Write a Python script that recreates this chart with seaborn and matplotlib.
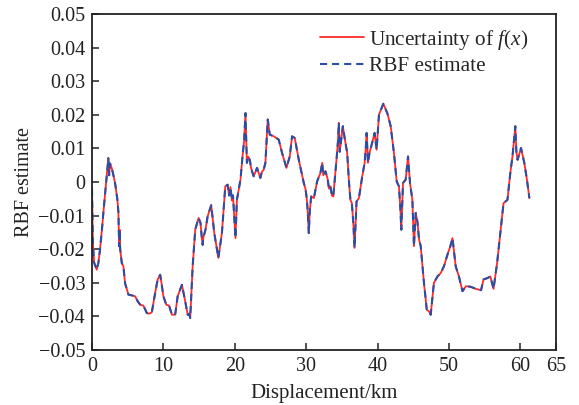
import matplotlib
matplotlib.use("Agg")
import matplotlib.pyplot as plt
import seaborn as sns
import pandas as pd
from matplotlib.ticker import FixedLocator, FuncFormatter

# ---- data ----
displacement_km = [
    0.0, 0.12, 0.3, 0.66, 0.9, 1.12, 1.4, 1.59, 1.97, 2.15, 2.29, 2.4, 2.53, 2.76, 3.0, 3.23,
    3.56, 3.7, 3.8, 3.88, 3.95, 4.17, 4.4, 4.63, 5.1, 5.5, 6.04, 6.4, 6.74, 7.2, 7.68, 8.0,
    8.38, 8.85, 9.2, 9.55, 9.8, 10.0, 10.4, 10.8, 11.2, 11.65, 12.0, 12.6, 13.1, 13.4, 13.6,
    13.76, 14.1, 14.46, 14.93, 15.2, 15.4, 15.5, 15.6, 15.9, 16.2, 16.7, 17.13, 17.7, 18.2,
    18.67, 19.0, 19.2, 19.4, 19.6, 19.75, 20.1, 20.3, 20.8, 21.15, 21.3, 21.5, 21.7, 21.9,
    22.1, 22.3, 22.65, 23.12, 23.58, 23.8, 24.05, 24.29, 24.62, 24.9, 25.46, 26.16, 26.63,
    27.24, 27.7, 28.03, 28.4, 28.97, 29.67, 29.9, 30.05, 30.2, 30.37, 30.5, 30.7, 31.08,
    31.54, 32.0, 32.25, 32.4, 32.7, 33.0, 33.2, 33.4, 33.6, 33.8, 34.25, 34.45, 34.58, 34.7,
    34.8, 35.14, 35.4, 35.75, 36.0, 36.2, 36.4, 36.6, 36.78, 37.06, 37.39, 37.86, 38.19,
    38.35, 38.47, 38.66, 38.9, 39.12, 39.59, 39.87, 40.2, 40.81, 41.37, 41.84, 42.3, 42.68,
    43.0, 43.2, 43.33, 43.57, 43.94, 44.1, 44.27, 44.55, 44.88, 45.1, 45.35, 45.6, 45.82,
    46.05, 46.5, 46.9, 47.2, 47.45, 47.9, 48.4, 48.85, 49.3, 49.8, 50.2, 50.5, 50.95, 51.4,
    51.9, 52.4, 53.07, 53.77, 54.5, 54.85, 55.4, 55.8, 56.25, 56.75, 57.2, 57.65, 58.2, 58.6,
    58.9, 59.3, 59.45, 59.62, 60.1, 60.56, 60.93, 61.27,
]
uncertainty_fx = [
    -0.002, -0.018, -0.024, -0.0261, -0.024, -0.0201, -0.014, -0.0092, -0.0003, 0.004, 0.0071,
    0.002, 0.0055, 0.0042, 0.002, -0.0003, -0.0053, -0.009, -0.0191, -0.0142, -0.02, -0.0241,
    -0.0251, -0.0301, -0.0335, -0.0337, -0.034, -0.0355, -0.0365, -0.0368, -0.039, -0.0392,
    -0.0388, -0.033, -0.029, -0.0276, -0.031, -0.034, -0.0365, -0.0368, -0.0395, -0.0395,
    -0.034, -0.0306, -0.036, -0.0395, -0.0392, -0.0405, -0.0251, -0.0142, -0.0107, -0.0122,
    -0.017, -0.0187, -0.0165, -0.0142, -0.0102, -0.0069, -0.0152, -0.0226, -0.0152, -0.0013,
    -0.0008, -0.004, -0.0015, -0.0055, -0.004, -0.0167, -0.0053, 0.0007, 0.0091, 0.012,
    0.0205, 0.0057, 0.0075, 0.0066, 0.004, 0.0017, 0.0042, 0.0012, 0.003, 0.0037, 0.0057,
    0.0186, 0.0141, 0.0136, 0.0126, 0.0086, 0.0042, 0.0076, 0.0136, 0.0131, 0.0066, -0.0003,
    -0.002, -0.0043, -0.008, -0.0152, -0.009, -0.0043, -0.0048, 0.0002, 0.0027, 0.0057,
    0.002, 0.0032, 0.001, -0.002, -0.0013, -0.004, -0.0043, 0.0066, 0.012, 0.0176, 0.009,
    0.0106, 0.0166, 0.013, 0.0086, 0.0, -0.0053, -0.0063, -0.012, -0.0196, -0.0058, -0.0048,
    0.0017, 0.0057, 0.01, 0.0146, 0.0057, 0.009, 0.0106, 0.0146, 0.0096, 0.02, 0.0233,
    0.0205, 0.0166, 0.0086, 0.0002, -0.0013, -0.008, -0.0142, -0.0003, 0.0007, 0.004, 0.0076,
    -0.0003, -0.0053, -0.0191, -0.0092, -0.012, -0.0172, -0.0191, -0.03, -0.038, -0.0385,
    -0.0395, -0.03, -0.0281, -0.0271, -0.0251, -0.0216, -0.0191, -0.0167, -0.0251, -0.0281,
    -0.0325, -0.031, -0.0312, -0.0318, -0.0322, -0.029, -0.0286, -0.0281, -0.0318, -0.0241,
    -0.0152, -0.0063, -0.0053, 0.0027, 0.0076, 0.0166, 0.009, 0.0066, 0.0101, 0.0057, 0.0007,
    -0.0048,
]
rbf_estimate = list(uncertainty_fx)  # visually indistinguishable from the red curve

x_ticks = [0, 10, 20, 30, 40, 50, 60, 65]
y_ticks = [-0.05, -0.04, -0.03, -0.02, -0.01, 0, 0.01, 0.02, 0.03, 0.04, 0.05]
x_label = "Displacement/km"
y_label = "RBF estimate"
label_unc = "Uncertainty of $f$($x$)"
label_rbf = "RBF estimate"

# ---- style ----
sns.set_style("ticks")
plt.rcParams["font.family"] = ["Liberation Serif", "DejaVu Serif"]
plt.rcParams["mathtext.fontset"] = "custom"
plt.rcParams["mathtext.rm"] = "Liberation Serif"
plt.rcParams["mathtext.it"] = "Liberation Serif:italic"
plt.rcParams["axes.unicode_minus"] = True

df = pd.DataFrame({"x": displacement_km, "unc": uncertainty_fx, "rbf": rbf_estimate})

fig = plt.figure(figsize=(5.79, 4.05), dpi=100)
ax = fig.add_axes([92 / 579, 1 - 350 / 405, 464 / 579, 336 / 405])

sns.lineplot(data=df, x="x", y="unc", ax=ax, color="#ff2a2a", linewidth=1.3,
             sort=False, estimator=None, label=label_unc)
sns.lineplot(data=df, x="x", y="rbf", ax=ax, color="#2a4ea6", linewidth=1.5,
             sort=False, estimator=None, label=label_rbf, dashes=False)
ax.lines[1].set_dashes([3.4, 2.4])

ax.set_xlim(0, 65)
ax.set_ylim(-0.05, 0.05)
ax.xaxis.set_major_locator(FixedLocator(x_ticks))
ax.yaxis.set_major_locator(FixedLocator(y_ticks))

def yfmt(v, pos):
    if abs(v) < 1e-12:
        return "0"
    s = f"{v:.2f}"
    return s.replace("-", "\u2212")

ax.yaxis.set_major_formatter(FuncFormatter(yfmt))
ax.xaxis.set_major_formatter(FuncFormatter(lambda v, p: f"{int(round(v))}"))

ax.tick_params(direction="in", length=5, width=1.1, labelsize=14.5, colors="#222222",
               pad=5)
for sp in ax.spines.values():
    sp.set_visible(True)
    sp.set_linewidth(1.3)
    sp.set_color("#222222")

ax.set_xlabel(x_label, fontsize=15, color="#222222", labelpad=6)
ax.set_ylabel(y_label, fontsize=14.5, color="#222222", labelpad=3)

leg = ax.legend(loc="upper left", bbox_to_anchor=(0.473, 0.984), frameon=False,
                fontsize=15.3, handlelength=2.05, handletextpad=0.25, labelspacing=0.2,
                borderaxespad=0.0)

fig.savefig("out.png", dpi=100)
